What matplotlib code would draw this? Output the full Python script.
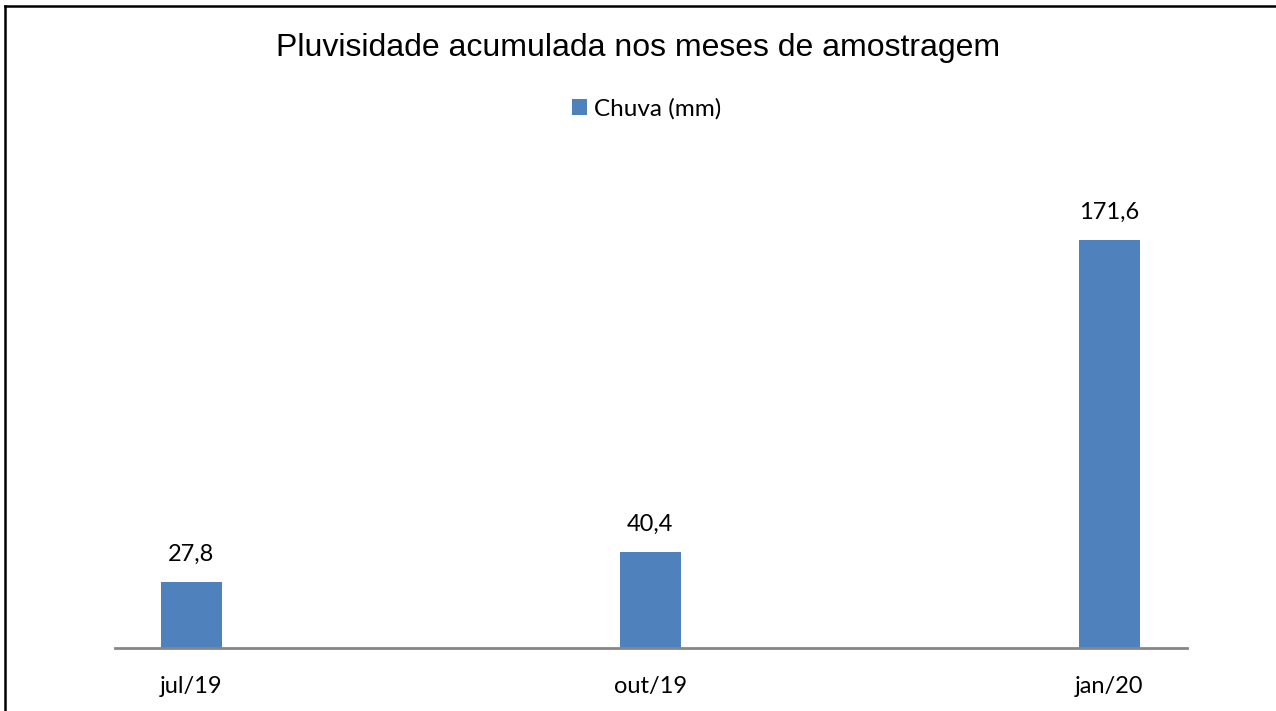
import matplotlib.pyplot as plt
from matplotlib.lines import Line2D

meses = ['jul/19', 'out/19', 'jan/20']
chuva = [27.8, 40.4, 171.6]
rotulos = ['27,8', '40,4', '171,6']

cor_barra = '#4F81BD'
fonte = ['Lato', 'DejaVu Sans']

fig = plt.figure(figsize=(12.76, 7.11), dpi=100)
ax = fig.add_axes([0.0901, 0.0886, 0.8401, 0.669])

x = range(len(meses))
barras = ax.bar(x, chuva, width=0.133, color=cor_barra, label='Chuva (mm)')

# rotulos de dados acima das barras
for xi, v, r in zip(x, chuva, rotulos):
    ax.annotate(r, (xi, v), xytext=(0, 12), textcoords='offset points',
                ha='center', va='bottom', fontsize=17, family=fonte)

ax.set_xlim(-0.1667, 2.169)
ax.set_ylim(0, 200)
ax.set_xticks(list(x))
ax.set_xticklabels(meses, fontsize=17, family=fonte)
ax.tick_params(axis='x', length=0, pad=20)
ax.set_yticks([])
for s in ['top', 'right', 'left']:
    ax.spines[s].set_visible(False)
ax.spines['bottom'].set_color('#868686')
ax.spines['bottom'].set_linewidth(2)

fig.text(0.5, 0.933, 'Pluvisidade acumulada nos meses de amostragem',
         ha='center', va='center', fontsize=23, family=['Liberation Sans', 'DejaVu Sans'])

leg = fig.legend(handles=[barras], loc='center', bbox_to_anchor=(0.507, 0.847),
                 frameon=False, prop={'family': fonte, 'size': 17.5},
                 handlelength=0.6, handleheight=0.6, handletextpad=0.3)

# moldura do grafico
fig.add_artist(Line2D([0.004, 0.004], [0, 0.992], color='black', lw=1.8))
fig.add_artist(Line2D([0.004, 1.0], [0.992, 0.992], color='black', lw=1.8))

fig.savefig('out.png', dpi=100)
